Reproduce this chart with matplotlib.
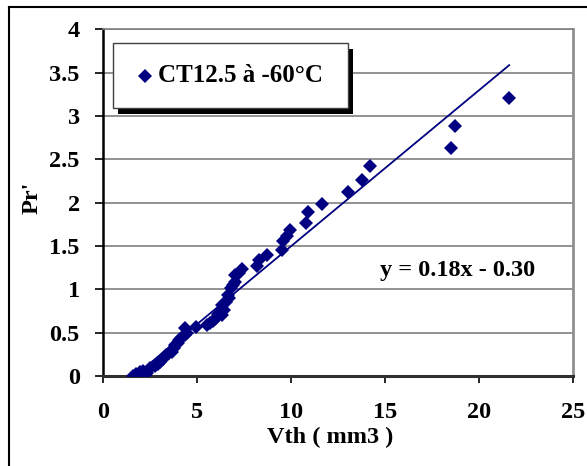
import matplotlib
matplotlib.use("Agg")
import matplotlib.pyplot as plt
from matplotlib.patches import Rectangle
from matplotlib.lines import Line2D
import numpy as np

# ---- data ----
vth = [1.59, 1.75, 1.94, 2.10, 2.34, 2.50, 2.74, 2.90, 3.04, 3.20, 3.33, 3.50,
       3.63, 3.75, 3.83, 3.95, 4.03, 4.15, 4.33, 4.33, 4.45, 4.92, 5.52, 5.70,
       5.81, 5.95, 6.11, 6.30, 6.41, 6.31, 6.50, 6.61, 6.70, 6.81, 6.90, 7.00,
       7.00, 7.20, 7.40, 8.19, 8.29, 8.69, 9.52, 9.58, 9.78, 9.94, 10.77, 10.87,
       11.63, 13.02, 13.75, 14.19, 18.51, 18.73, 21.59]
pr = [0.00, 0.02, 0.05, 0.06, 0.04, 0.09, 0.12, 0.14, 0.16, 0.20, 0.24, 0.26,
      0.28, 0.32, 0.36, 0.38, 0.41, 0.44, 0.55, 0.47, 0.50, 0.57, 0.59, 0.61,
      0.63, 0.66, 0.71, 0.70, 0.76, 0.82, 0.85, 0.94, 0.90, 1.02, 1.05, 1.09,
      1.17, 1.19, 1.23, 1.27, 1.34, 1.40, 1.45, 1.56, 1.62, 1.68, 1.77, 1.89,
      1.98, 2.12, 2.26, 2.42, 2.63, 2.89, 3.21]
slope = 0.18
intercept = -0.30
series_label = "CT12.5 à -60°C"
equation = "y = 0.18x - 0.30"
xticks = [0, 5, 10, 15, 20, 25]
yticks = [0, 0.5, 1, 1.5, 2, 2.5, 3, 3.5, 4]

NAVY = "#000080"
FONT = "Liberation Serif"
FS = 17.5

W, H = 587, 466
fig = plt.figure(figsize=(W / 100, H / 100), dpi=100)
ax = fig.add_axes([103.3 / W, 1 - 376 / H, 470 / W, 346.7 / H])

# grid lines
for yv in yticks[1:]:
    ax.axhline(yv, color="#808080", lw=1.2, zorder=0)

ax.plot(vth, pr, linestyle="none", marker="D", ms=7.2, color=NAVY,
        markeredgewidth=0, zorder=3)
xl = np.array([min(vth), max(vth)])
ax.plot(xl, slope * xl + intercept, color=NAVY, lw=1.3, zorder=2)

ax.set_xlim(0, 25)
ax.set_ylim(0, 4)
ax.set_xticks(xticks)
ax.set_yticks(yticks)
ax.set_xticklabels([f"{v:g}" for v in xticks])
ax.set_yticklabels([f"{v:g}" for v in yticks])
for lab in ax.get_xticklabels() + ax.get_yticklabels():
    lab.set_fontfamily(FONT)
    lab.set_fontweight("bold")
    lab.set_fontsize(FS)
ax.tick_params(axis="x", direction="out", length=5, width=1.2, pad=14)
ax.tick_params(axis="y", direction="out", length=6, width=1.2, pad=11)

ax.spines["left"].set_color("black")
ax.spines["left"].set_linewidth(1.8)
ax.spines["bottom"].set_color("#303030")
ax.spines["bottom"].set_linewidth(2.2)
ax.spines["top"].set_color("#808080")
ax.spines["top"].set_linewidth(1.2)
ax.spines["right"].set_color("#909090")
ax.spines["right"].set_linewidth(2)

ax.set_xlabel("Vth ( mm3 )", fontfamily=FONT, fontweight="bold", fontsize=FS)
ax.set_ylabel("Pr'", fontfamily=FONT, fontweight="bold", fontsize=FS)
ax.xaxis.set_label_coords(0.482, -0.148)
ax.yaxis.set_label_coords(-0.13, 0.515)

ax.text(14.7, 1.22, equation, fontfamily=FONT, fontweight="bold",
        fontsize=FS, va="center", ha="left")

# legend box with black shadow (figure pixel coords)
def fx(px):
    return px / W

def fy(py):
    return 1 - py / H

lx0, ly0, lx1, ly1 = 113, 43, 348, 108
fig.patches.append(Rectangle((fx(lx0 + 5), fy(ly1 + 6)), fx(lx1 - lx0), (ly1 - ly0) / H,
                             transform=fig.transFigure, facecolor="black",
                             edgecolor="none", zorder=5))
fig.patches.append(Rectangle((fx(lx0), fy(ly1)), fx(lx1 - lx0), (ly1 - ly0) / H,
                             transform=fig.transFigure, facecolor="white",
                             edgecolor="#404040", lw=1.0, zorder=6))
fig.lines.append(Line2D([fx(145)], [fy(76)], transform=fig.transFigure,
                        marker="D", ms=7.2, color=NAVY, markeredgewidth=0,
                        linestyle="none", zorder=7))
fig.text(fx(158), fy(76), series_label, fontfamily=FONT, fontweight="bold",
         fontsize=FS + 0.5, va="center", ha="left", zorder=7)

# outer frame (left and top edges visible)
fig.lines.append(Line2D([fx(9), fx(9)], [0, fy(7)], transform=fig.transFigure,
                        color="black", lw=1.5))
fig.lines.append(Line2D([fx(9), 1], [fy(7), fy(7)], transform=fig.transFigure,
                        color="black", lw=1.5))

fig.savefig("out.png", dpi=100)
